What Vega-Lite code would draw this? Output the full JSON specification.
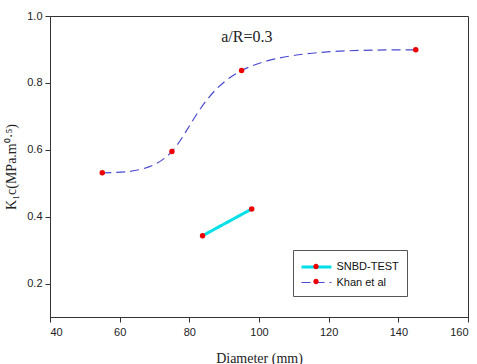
{
  "$schema": "https://vega.github.io/schema/vega-lite/v6.json",
  "width": 418,
  "height": 301,
  "autosize": "none",
  "padding": {"left": 50, "top": 16, "right": 9, "bottom": 47},
  "background": "white",
  "config": {
    "view": {"stroke": "#333333", "strokeWidth": 1},
    "axis": {"grid": false, "domainColor": "#333333", "tickColor": "#333333", "tickSize": 5, "labelFont": "Liberation Sans", "labelFontSize": 11, "labelColor": "#222222", "titleFont": "Liberation Serif", "titleFontSize": 14, "titleFontWeight": "normal", "titleColor": "#222222"}
  },
  "data": {"values": [
    {"series": "Khan et al", "d": 55, "k": 0.531},
    {"series": "Khan et al", "d": 75, "k": 0.595},
    {"series": "Khan et al", "d": 95, "k": 0.837},
    {"series": "Khan et al", "d": 145, "k": 0.899},
    {"series": "SNBD-TEST", "d": 83.8, "k": 0.343},
    {"series": "SNBD-TEST", "d": 97.9, "k": 0.423}
  ]},
  "layer": [
    {
      "mark": {"type": "line", "interpolate": "natural"},
      "encoding": {
        "x": {"field": "d", "type": "quantitative", "scale": {"domain": [40, 160], "nice": false}, "axis": {"values": [40, 60, 80, 100, 120, 140, 160], "title": "Diameter (mm)", "titlePadding": 14, "labelPadding": 4}},
        "y": {"field": "k", "type": "quantitative", "scale": {"domain": [0.1, 1.0], "nice": false, "zero": false}, "axis": {"values": [0.2, 0.4, 0.6, 0.8, 1.0], "format": ".1f", "title": "K₁c(MPa.m⁰·⁵)", "titlePadding": 8, "labelPadding": 3}},
        "color": {"field": "series", "type": "nominal", "scale": {"domain": ["SNBD-TEST", "Khan et al"], "range": ["#00e0e8", "#4a4ad0"]},
          "legend": {"title": null, "orient": "none", "legendX": 243, "legendY": 234, "strokeColor": "#555555", "padding": 8, "labelFont": "Liberation Sans", "labelFontSize": 11, "labelColor": "#111111", "symbolType": "M-2,0L2,0", "symbolSize": 225, "symbolOffset": 6.5, "rowPadding": 1, "labelOffset": 11,
            "encode": {"symbols": {"update": {"fill": {"value": "transparent"}}}}}},
        "strokeDash": {"field": "series", "type": "nominal", "scale": {"domain": ["SNBD-TEST", "Khan et al"], "range": [[1, 0], [9, 5]]}},
        "strokeWidth": {"field": "series", "type": "nominal", "scale": {"type": "ordinal", "domain": ["SNBD-TEST", "Khan et al"], "range": [3, 1.2]}}
      }
    },
    {
      "mark": {"type": "circle", "opacity": 1, "size": 30},
      "encoding": {
        "x": {"field": "d", "type": "quantitative"},
        "y": {"field": "k", "type": "quantitative"},
        "fill": {"field": "series", "type": "nominal", "scale": {"range": ["#ee0000", "#ee0000"]},
          "legend": {"title": null, "orient": "none", "legendX": 243, "legendY": 234, "padding": 8, "labelFont": "Liberation Sans", "labelFontSize": 11, "labelExpr": "''", "symbolType": "M-2,0L2,0M-0.36,0A0.36,0.36 0 1,0 0.36,0A0.36,0.36 0 1,0 -0.36,0", "symbolSize": 225, "symbolOffset": 6.5, "rowPadding": 1, "labelOffset": 11,
            "encode": {"symbols": {"update": {"fill": {"value": "#ee0000"}, "stroke": {"value": "transparent"}, "strokeWidth": {"value": 0}, "opacity": {"value": 1}}}}}
        }
      }
    },
    {
      "data": {"values": [{"label": "a/R=0.3", "d": 96.5, "k": 0.936}]},
      "mark": {"type": "text", "font": "Liberation Serif", "fontSize": 16, "color": "#222222"},
      "encoding": {
        "x": {"field": "d", "type": "quantitative"},
        "y": {"field": "k", "type": "quantitative"},
        "text": {"field": "label"}
      }
    }
  ]
}
